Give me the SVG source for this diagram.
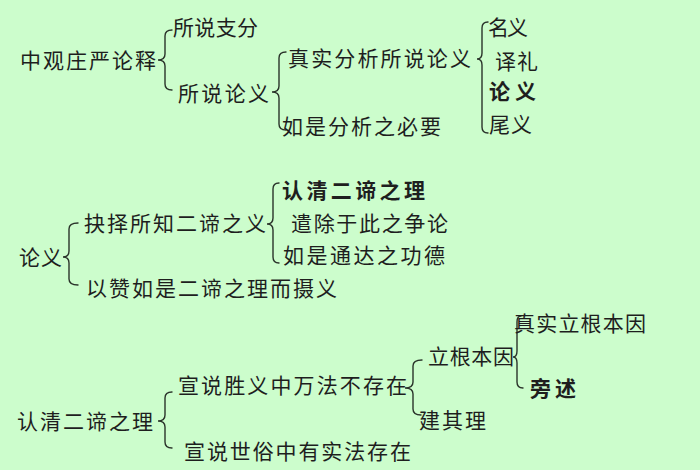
<svg xmlns="http://www.w3.org/2000/svg" width="700" height="470" viewBox="0 0 700 470">
<style>
text{font-family:"Noto Sans CJK SC","Noto Sans CJK TC",sans-serif;font-size:21px;fill:#1e1e1e;dominant-baseline:central;}
.b{font-weight:bold;}
.br{fill:none;stroke:#2a332a;stroke-width:1.4;stroke-linecap:round;}
</style>
<rect width="700" height="470" fill="#ccfdcc"/>
<g id="connectors">
<path class="br" d="M172 30 Q165 30 165 36 L165 54 Q165 60 158 60 Q165 60 165 66 L165 84 Q165 90 172 90"/>
<path class="br" d="M286 52 Q279 52 279 58 L279 86 Q279 92 272 92 Q279 92 279 98 L279 124 Q279 130 286 130"/>
<path class="br" d="M488 22 Q482 22 482 28 L482 53 Q482 59 477 59 Q482 59 482 65 L482 127 Q482 133 488 133"/>
<path class="br" d="M78 223 Q69 223 69 229 L69 251 Q69 257 63 257 Q69 257 69 263 L69 279 Q69 285 78 285"/>
<path class="br" d="M279 183 Q273 183 273 189 L273 218 Q273 224 267 224 Q273 224 273 230 L273 257 Q273 263 279 263"/>
<path class="br" d="M172 392 Q165 392 165 398 L165 415 Q165 421 158 421 Q165 421 165 427 L165 442 Q165 448 172 448"/>
<path class="br" d="M422 360 Q413 360 413 366 L413 382 Q413 388 405 388 Q413 388 413 394 L413 409 Q413 415 421 415"/>
<path class="br" d="M521 316 Q517 316 517 322 L517 351 Q517 357 513 357 Q517 357 517 363 L517 382 Q517 388 523 388"/>
</g>
<g id="n-zhongguan"><text x="20" y="59" textLength="136" lengthAdjust="spacing">中观庄严论释</text></g>
<g id="n-suoshuozhifen"><text x="173" y="26" textLength="85" lengthAdjust="spacing">所说支分</text></g>
<g id="n-suoshuolunyi"><text x="178" y="92" textLength="91" lengthAdjust="spacing">所说论义</text></g>
<g id="n-zhenshi"><text x="288" y="57" textLength="183" lengthAdjust="spacing">真实分析所说论义</text></g>
<g id="n-rushi1"><text x="282" y="125" textLength="159" lengthAdjust="spacing">如是分析之必要</text></g>
<g id="n-mingyi"><text x="488" y="26" textLength="40" lengthAdjust="spacing">名义</text></g>
<g id="n-yili"><text x="495" y="60" textLength="43" lengthAdjust="spacing">译礼</text></g>
<g id="n-lunyi-b"><text class="b" x="489" y="90" textLength="47" lengthAdjust="spacing">论义</text></g>
<g id="n-weiyi"><text x="489" y="123" textLength="43" lengthAdjust="spacing">尾义</text></g>

<g id="n-lunyi2"><text x="19" y="256" textLength="43" lengthAdjust="spacing">论义</text></g>
<g id="n-juezhe"><text x="84" y="222" textLength="182" lengthAdjust="spacing">抉择所知二谛之义</text></g>
<g id="n-yizan"><text x="86" y="287" textLength="251" lengthAdjust="spacing">以赞如是二谛之理而摄义</text></g>
<g id="n-renqing-b"><text class="b" x="282" y="189" textLength="143" lengthAdjust="spacing">认清二谛之理</text></g>
<g id="n-qianchu"><text x="291" y="222" textLength="157" lengthAdjust="spacing">遣除于此之争论</text></g>
<g id="n-rushi2"><text x="283" y="254" textLength="162" lengthAdjust="spacing">如是通达之功德</text></g>

<g id="n-renqing"><text x="17" y="420" textLength="136" lengthAdjust="spacing">认清二谛之理</text></g>
<g id="n-shengyi"><text x="178" y="384" textLength="229" lengthAdjust="spacing">宣说胜义中万法不存在</text></g>
<g id="n-shisu"><text x="184" y="450" textLength="227" lengthAdjust="spacing">宣说世俗中有实法存在</text></g>
<g id="n-ligen"><text x="428" y="355" textLength="86" lengthAdjust="spacing">立根本因</text></g>
<g id="n-jianqili"><text x="419" y="419" textLength="67" lengthAdjust="spacing">建其理</text></g>
<g id="n-zhenshili"><text x="514" y="322" textLength="132" lengthAdjust="spacing">真实立根本因</text></g>
<g id="n-pangshu"><text class="b" x="530" y="387" textLength="46" lengthAdjust="spacing">旁述</text></g>
</svg>
